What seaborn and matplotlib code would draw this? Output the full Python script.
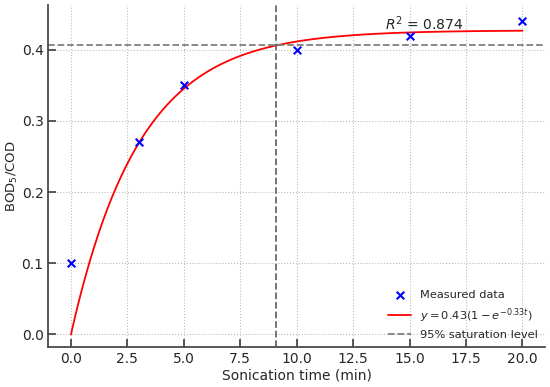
import numpy as np
import pandas as pd
import matplotlib
matplotlib.use("Agg")
import matplotlib.pyplot as plt
import seaborn as sns

# measured data
time_min = [0, 3, 5, 10, 15, 20]
bod_cod = [0.10, 0.27, 0.35, 0.40, 0.42, 0.44]

# fitted model parameters
a_fit = 0.4275
k_fit = 0.33
r2 = 0.874

sns.set_theme(style="ticks")
plt.rcParams["font.family"] = ["DejaVu Sans"]

df = pd.DataFrame({"t": time_min, "y": bod_cod})
t_fine = np.linspace(0, 20, 200)
fit = pd.DataFrame({"t": t_fine, "y": a_fit * (1 - np.exp(-k_fit * t_fine))})

sat_level = 0.95 * a_fit
t_sat = np.log(20) / k_fit

fig, ax = plt.subplots(figsize=(5.5, 3.87), dpi=100)

sns.scatterplot(data=df, x="t", y="y", marker="x", color="blue", s=30,
                linewidth=1.5, label="Measured data", ax=ax, zorder=3)
sns.lineplot(data=fit, x="t", y="y", color="red", linewidth=1.3,
             label=r"$y = 0.43(1 - e^{-0.33t})$", ax=ax)
ax.axhline(sat_level, color="gray", linestyle="--", linewidth=1.3,
           label="95% saturation level")
ax.axvline(t_sat, color="dimgray", linestyle="--", linewidth=1.3)

ax.text(13.9, 0.428, f"$R^2$ = {r2}", fontsize=10)

ax.set_xlim(-1.0, 21.0)
ax.set_ylim(-0.018, 0.463)
ax.set_xticks(np.arange(0, 20.1, 2.5))
ax.set_yticks(np.arange(0, 0.41, 0.1))
ax.set_xlabel("Sonication time (min)", fontsize=10, labelpad=2)
ax.set_ylabel("BOD$_5$/COD", fontsize=9.5, labelpad=1)
ax.tick_params(direction="in", labelsize=10, color="#444444")
ax.grid(True, linestyle=":", color="#bbbbbb", linewidth=0.8)
for s in ["left", "bottom"]:
    ax.spines[s].set_color("#444444")
sns.despine(ax=ax)

ax.legend(loc="lower right", frameon=False, fontsize=8.2, labelspacing=0.5,
          borderaxespad=0.2, handlelength=2.0)

fig.subplots_adjust(left=0.088, right=0.991, top=0.987, bottom=0.103)
fig.savefig("out.png", dpi=100)
